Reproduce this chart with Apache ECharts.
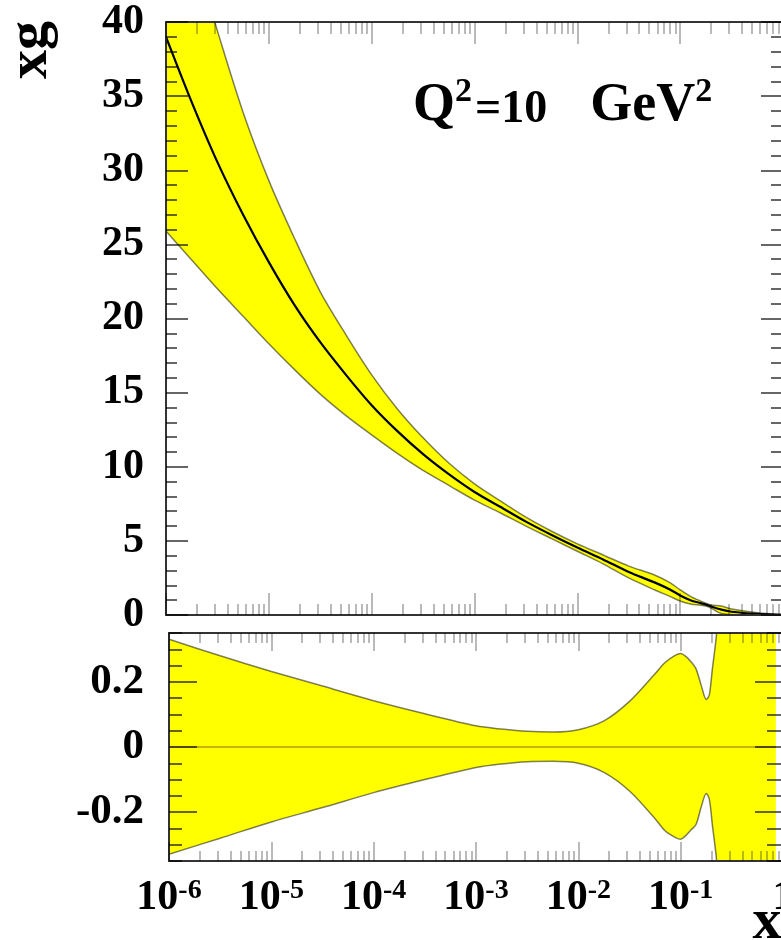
<!DOCTYPE html>
<html>
<head>
<meta charset="utf-8">
<script src="https://cdn.jsdelivr.net/npm/echarts@6/dist/echarts.min.js"></script>
<style>
  html, body { margin: 0; padding: 0; background: #fff; }
  #chart { width: 781px; height: 940px; }
</style>
</head>
<body>
<div id="chart"></div>
<script>
// Gluon momentum distribution xg at Q^2 = 10 GeV^2, sampled in log10(x)
const LOGX_MAIN = [-6, -5.75, -5.5, -5.25, -5, -4.75, -4.5, -4.25, -4, -3.75,
  -3.5, -3.25, -3, -2.75, -2.5, -2.25, -2, -1.75, -1.5, -1.25,
  -1.1, -1, -0.9, -0.8, -0.75, -0.7, -0.6, -0.5, -0.25, 0];
const XG_CENTRAL = [39.0, 34.6, 30.55, 27.0, 23.8, 20.9, 18.4, 16.2, 14.15, 12.4,
  10.85, 9.5, 8.3, 7.3, 6.3, 5.4, 4.55, 3.75, 2.9, 2.2,
  1.72, 1.32, 1.0, 0.8, 0.7, 0.57, 0.36, 0.22, 0.07, 0.0];
const XG_UPPER = [51.9, 45.2, 39.4, 33.9, 29.3, 25.4, 21.8, 18.9, 16.2, 13.9,
  11.95, 10.25, 8.85, 7.7, 6.6, 5.65, 4.8, 4.05, 3.3, 2.7,
  2.18, 1.7, 1.26, 0.94, 0.8, 0.68, 0.6, 0.4, 0.15, 0.02];
const XG_LOWER = [25.9, 23.95, 22.0, 20.15, 18.3, 16.55, 14.9, 13.45, 12.15, 10.9,
  9.75, 8.75, 7.75, 6.9, 6.0, 5.15, 4.3, 3.45, 2.5, 1.7,
  1.26, 0.94, 0.74, 0.66, 0.6, 0.46, 0.1, 0.03, 0.0, 0.0];

// Relative uncertainty of xg
const LOGX_RATIO = [-6, -5.5, -5, -4.5, -4, -3.5, -3, -2.75, -2.5, -2.25,
  -2, -1.75, -1.5, -1.25, -1.15, -1.05, -1, -0.95, -0.9, -0.85,
  -0.8, -0.75, -0.72, -0.69, -0.65, -0.62, -0.6, -0.07];
const RATIO_UP = [0.331, 0.28, 0.232, 0.187, 0.142, 0.102, 0.065, 0.055, 0.048, 0.046,
  0.053, 0.08, 0.14, 0.225, 0.26, 0.282, 0.287, 0.278, 0.262, 0.24,
  0.19, 0.146, 0.16, 0.24, 0.345, 0.5, 1.0, 1.0];
const RATIO_DN = [-0.329, -0.28, -0.23, -0.186, -0.14, -0.1, -0.063, -0.052, -0.045, -0.044,
  -0.05, -0.078, -0.135, -0.22, -0.258, -0.278, -0.283, -0.272, -0.255, -0.238,
  -0.185, -0.143, -0.16, -0.24, -0.345, -0.5, -1.0, -1.0];
const RATIO_MID = [0, 0, 0, 0, 0, 0, 0, 0, 0, 0,
  0, 0, 0, 0, 0, 0, 0, 0, 0, 0,
  0, 0, 0, 0, 0, 0, 0, 0];

// Axis ticks and labels
const X_DECADES = [-6, -5, -4, -3, -2, -1, 0];
const X_SUBDECADE = [];
for (let e = -6; e < 0; e++) {
  for (let k = 2; k <= 9; k++) X_SUBDECADE.push(e + Math.log10(k));
}
const RATIO_MAJOR = [-0.2, 0, 0.2];

const FONT = "'Liberation Serif', 'Times New Roman', serif";
const X_TICK = 'rgba(0,0,0,0.27)';
const Y_TICK = 'rgba(0,0,0,0.6)';
const EDGE = 'rgba(0,0,0,0.5)';
const FRAME = { color: '#333', width: 2 };

function xAxis(grid, pos, ticks, len, line, labels) {
  return {
    type: 'value', gridIndex: grid, position: pos, min: -6, max: 0, z: 10,
    axisLine: { show: line, onZero: false, lineStyle: FRAME },
    axisTick: { show: true, inside: true, length: len, customValues: ticks,
      lineStyle: { color: X_TICK, width: 2 } },
    minorTick: { show: false },
    splitLine: { show: false },
    axisLabel: labels ? {
      customValues: X_DECADES, margin: 16,
      formatter: v => (Math.round(v) === 0 ? '{a|1}' : '{a|10}{b|' + Math.round(v) + '}'),
      rich: {
        a: { fontFamily: FONT, fontWeight: 'bold', fontSize: 42, lineHeight: 42, verticalAlign: 'bottom', color: '#000' },
        b: { fontFamily: FONT, fontWeight: 'bold', fontSize: 28, lineHeight: 14, verticalAlign: 'top', color: '#000' }
      }
    } : { show: false }
  };
}

function yAxis(grid, pos, cfg) {
  return Object.assign({
    type: 'value', gridIndex: grid, position: pos, z: 10,
    axisLine: { show: true, onZero: false, lineStyle: FRAME },
    splitLine: { show: false },
    axisLabel: { show: false }
  }, cfg);
}

const yLabel = (margin, size) => ({
  margin: margin, fontFamily: FONT, fontWeight: 'bold', fontSize: size, color: '#000'
});

const pairs = (xs, ys) => xs.map((x, i) => [x, ys[i]]);

// A band edge: the upper edge fills yellow down to the axis floor,
// the lower edge then paints white below itself, leaving the band.
function edge(name, xAx, yAx, xs, ys, fill) {
  return {
    type: 'line', name: name, xAxisIndex: xAx, yAxisIndex: yAx, z: 2,
    data: pairs(xs, ys), smooth: 0.3,
    symbol: 'none', clip: true,
    lineStyle: { color: EDGE, width: 1.5 },
    areaStyle: { color: fill, opacity: 1, origin: 'start' }
  };
}

const title = (size, pad) => ({
  fontFamily: FONT, fontWeight: 'bold', fontSize: size, lineHeight: 58,
  verticalAlign: 'bottom', color: '#000', padding: [0, 0, 0, pad]
});

const chart = echarts.init(document.getElementById('chart'), null, { renderer: 'canvas' });

chart.setOption({
  backgroundColor: '#fff',
  animation: false,
  title: {
    text: '{q|Q}{s|2}{m|=10}{g|GeV}{s|2}',
    left: 413, top: 75, padding: 0,
    textStyle: {
      rich: {
        q: title(54, 0),
        m: title(46, 3),
        g: title(54, 43),
        s: { fontFamily: FONT, fontWeight: 'bold', fontSize: 34, lineHeight: 16, verticalAlign: 'top', color: '#000' }
      }
    }
  },
  graphic: [
    { type: 'text', x: 31, y: 50, rotation: Math.PI / 2, z: 20,
      style: { text: 'xg', font: 'bold 58px ' + FONT, fill: '#000', align: 'center', verticalAlign: 'middle' } },
    { type: 'text', x: 767, y: 923, z: 20,
      style: { text: 'x', font: 'bold 58px ' + FONT, fill: '#000', align: 'center', verticalAlign: 'middle' } }
  ],
  grid: [
    { left: 166, top: 22, width: 617, height: 593, containLabel: false, outerBoundsMode: 'none' },
    { left: 169, top: 633, width: 614, height: 228, containLabel: false, outerBoundsMode: 'none' }
  ],
  xAxis: [
    xAxis(0, 'bottom', X_DECADES, 22, true, false),
    xAxis(0, 'bottom', X_SUBDECADE, 11, false, false),
    xAxis(0, 'top', X_DECADES, 22, true, false),
    xAxis(0, 'top', X_SUBDECADE, 12, false, false),
    xAxis(1, 'bottom', X_DECADES, 19, true, true),
    xAxis(1, 'bottom', X_SUBDECADE, 10, false, false),
    xAxis(1, 'top', X_DECADES, 18, true, false),
    xAxis(1, 'top', X_SUBDECADE, 10, false, false)
  ],
  yAxis: [
    yAxis(0, 'left', {
      min: 0, max: 40, interval: 5,
      axisTick: { inside: true, length: 22, lineStyle: { color: Y_TICK, width: 2 } },
      minorTick: { show: true, splitNumber: 5, length: 11, lineStyle: { color: Y_TICK, width: 2 } },
      axisLabel: yLabel(22, 42)
    }),
    yAxis(0, 'right', {
      min: 0, max: 40, interval: 5,
      axisTick: { inside: true, length: 22, lineStyle: { color: Y_TICK, width: 2 } },
      minorTick: { show: true, splitNumber: 5, length: 12, lineStyle: { color: Y_TICK, width: 2 } }
    }),
    yAxis(1, 'left', {
      min: -0.35, max: 0.35,
      axisTick: { inside: true, length: 28, customValues: RATIO_MAJOR, lineStyle: { color: Y_TICK, width: 2 } },
      axisLabel: Object.assign(yLabel(25, 43), { customValues: RATIO_MAJOR })
    }),
    yAxis(1, 'left', {
      min: -0.35, max: 0.35, interval: 0.05, axisLine: { show: false, onZero: false },
      axisTick: { inside: true, length: 13, lineStyle: { color: Y_TICK, width: 2 } }
    }),
    yAxis(1, 'right', {
      min: -0.35, max: 0.35,
      axisTick: { inside: true, length: 28, customValues: RATIO_MAJOR, lineStyle: { color: Y_TICK, width: 2 } }
    }),
    yAxis(1, 'right', {
      min: -0.35, max: 0.35, interval: 0.05, axisLine: { show: false, onZero: false },
      axisTick: { inside: true, length: 16, lineStyle: { color: Y_TICK, width: 2 } }
    })
  ],
  series: [
    edge('xg upper', 0, 0, LOGX_MAIN, XG_UPPER, '#ffff00'),
    edge('xg lower', 0, 0, LOGX_MAIN, XG_LOWER, '#ffffff'),
    {
      type: 'line', name: 'xg', xAxisIndex: 0, yAxisIndex: 0, z: 3,
      data: pairs(LOGX_MAIN, XG_CENTRAL),
      smooth: 0.3, symbol: 'none', clip: true,
      lineStyle: { color: '#000', width: 2.2 }
    },
    edge('ratio upper', 4, 2, LOGX_RATIO, RATIO_UP, '#ffff00'),
    edge('ratio lower', 4, 2, LOGX_RATIO, RATIO_DN, '#ffffff'),
    {
      type: 'line', name: 'ratio', xAxisIndex: 4, yAxisIndex: 2, z: 3,
      data: pairs(LOGX_RATIO, RATIO_MID),
      symbol: 'none', clip: true,
      lineStyle: { color: '#c8b400', width: 2 }
    }
  ]
});
</script>
</body>
</html>
